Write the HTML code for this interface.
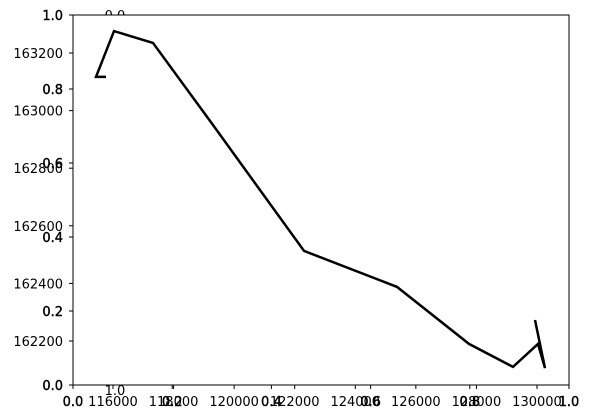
<!DOCTYPE html>
<html><head><meta charset="utf-8"><style>
html,body{margin:0;padding:0;background:#fff;}
svg{display:block;font-family:"DejaVu Sans","Liberation Sans",sans-serif;}
</style></head><body>
<svg id="chart" width="589" height="418" viewBox="0 0 589 418">
  <rect x="0" y="0" width="589" height="418" fill="#fff"/>
  <text x="115" y="20" font-size="13" text-anchor="middle">0.0</text>
  <text x="115" y="395" font-size="13" text-anchor="middle">1.0</text>
  <rect x="73" y="15" width="496" height="370" fill="#fff"/>
  <g id="axes"></g>
  <g id="marks"></g>
  <rect x="73" y="15" width="496" height="370" fill="none" stroke="#000" stroke-width="1"/>
</svg>
<script>
const xValues = [115769, 115439, 116033, 117321, 119302, 122307, 125378, 127755, 129208, 130034, 130265, 129935];
const yValues = [163117, 163117, 163276, 163235, 162950, 162513, 162388, 162190, 162110, 162190, 162106, 162273];
const xTickLabels = [116000, 118000, 120000, 122000, 124000, 126000, 128000, 130000];
const yTickLabels = [162200, 162400, 162600, 162800, 163000, 163200];
const unitTicks = [0, 0.2, 0.4, 0.6, 0.8, 1.0];

const NS = "http://www.w3.org/2000/svg";
function xs(v){ return 113 + (v - 116000) * 424 / 14000; }
function ys(v){ return 53 + (163200 - v) * 57.6 / 200; }
function ux(v){ return 73 + v * 496; }
function uy(v){ return 385 - v * 370; }
function mk(tag, attrs, parent){
  const e = document.createElementNS(NS, tag);
  for (const k in attrs) e.setAttribute(k, attrs[k]);
  parent.appendChild(e);
  return e;
}
const axes = document.getElementById('axes');
const marks = document.getElementById('marks');

unitTicks.forEach(function(t){
  const lx = mk('line', {x1: ux(t), x2: ux(t), y1: 385, y2: 389, stroke: '#000'}, axes);
  
  
  const tx = mk('text', {x: ux(t), y: 406, 'font-size': 13, 'text-anchor': 'middle', stroke: '#000', 'stroke-width': 0.4}, axes);
  tx.textContent = t.toFixed(1);
  
  
  const ly = mk('line', {x1: 69, x2: 73, y1: uy(t), y2: uy(t), stroke: '#000'}, axes);
  
  
  const ty = mk('text', {x: 63, y: uy(t) + 5, 'font-size': 13, 'text-anchor': 'end', stroke: '#000', 'stroke-width': 0.4}, axes);
  ty.textContent = t.toFixed(1);
  
  
});

xTickLabels.forEach(function(t){
  const l = mk('line', {x1: xs(t), x2: xs(t), y1: 385, y2: 389, stroke: '#000'}, axes);
  
  
  const tx = mk('text', {x: xs(t), y: 406, 'font-size': 13, 'text-anchor': 'middle'}, axes);
  tx.textContent = String(t);
  
  
});

yTickLabels.forEach(function(t){
  const l = mk('line', {x1: 69, x2: 73, y1: ys(t), y2: ys(t), stroke: '#000'}, axes);
  
  
  const ty = mk('text', {x: 63, y: ys(t) + 5, 'font-size': 13, 'text-anchor': 'end'}, axes);
  ty.textContent = String(t);
  
  
});

const pts = xValues.map(function(x, i){ return xs(x).toFixed(1) + ',' + ys(yValues[i]).toFixed(1); }).join(' ');
const line = mk('polyline', {points: pts, fill: 'none', stroke: '#000', 'stroke-width': 2.5, 'stroke-linejoin': 'miter'}, marks);


</script>
</body></html>
